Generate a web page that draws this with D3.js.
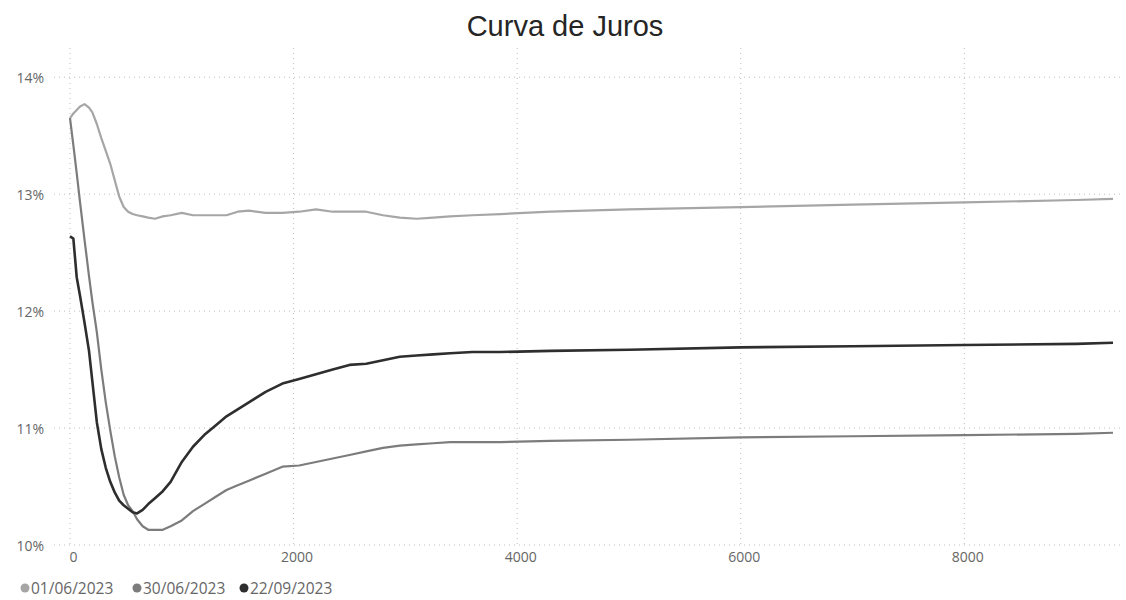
<!DOCTYPE html>
<html>
<head>
<meta charset="utf-8">
<script src="https://cdn.jsdelivr.net/npm/d3@7"></script>
<style>
body { margin: 0; background: #fff; }
</style>
</head>
<body>
<script>
const days = [0, 30, 60, 90, 130, 170, 200, 240, 280, 320, 360, 400, 440, 480, 520, 560, 600, 650, 700, 760,
    830, 900, 1000, 1100, 1200, 1300, 1400, 1500, 1600, 1750, 1900, 2050, 2200, 2350, 2500, 2650, 2800, 2950,
    3100, 3250, 3400, 3600, 3850, 4300, 5000, 6000, 7000, 8000, 9000, 9330];

const juros0106 = [13.65, 13.69, 13.72, 13.75, 13.77, 13.74, 13.70, 13.60, 13.48, 13.37, 13.26, 13.12, 12.98, 12.89,
    12.85, 12.83, 12.82, 12.81, 12.80, 12.79, 12.81, 12.82, 12.84, 12.82, 12.82, 12.82, 12.82, 12.85, 12.86, 12.84,
    12.84, 12.85, 12.87, 12.85, 12.85, 12.85, 12.82, 12.80, 12.79, 12.80, 12.81, 12.82, 12.83, 12.85, 12.87, 12.89,
    12.91, 12.93, 12.95, 12.96];

const juros3006 = [13.65, 13.42, 13.18, 12.93, 12.61, 12.30, 12.08, 11.82, 11.50, 11.22, 10.98, 10.76, 10.58, 10.43,
    10.34, 10.29, 10.22, 10.16, 10.13, 10.13, 10.13, 10.16, 10.21, 10.29, 10.35, 10.41, 10.47, 10.51, 10.55, 10.61,
    10.67, 10.68, 10.71, 10.74, 10.77, 10.80, 10.83, 10.85, 10.86, 10.87, 10.88, 10.88, 10.88, 10.89, 10.90, 10.92,
    10.93, 10.94, 10.95, 10.96];

const juros2209 = [12.64, 12.62, 12.29, 12.13, 11.90, 11.66, 11.40, 11.05, 10.82, 10.66, 10.54, 10.45, 10.38, 10.34,
    10.31, 10.28, 10.27, 10.30, 10.35, 10.40, 10.46, 10.54, 10.71, 10.84, 10.94, 11.02, 11.10, 11.16, 11.22, 11.31,
    11.38, 11.42, 11.46, 11.50, 11.54, 11.55, 11.58, 11.61, 11.62, 11.63, 11.64, 11.65, 11.65, 11.66, 11.67, 11.69,
    11.70, 11.71, 11.72, 11.73];

const seriesNames = ["01/06/2023", "30/06/2023", "22/09/2023"];
const seriesColors = ["#a6a6a6", "#7c7c7c", "#2e2e2e"];
const seriesValues = [juros0106, juros3006, juros2209];

const xTicks = [0, 2000, 4000, 6000, 8000];
const yTicks = [10, 11, 12, 13, 14];

const width = 1126;
const height = 600;

const x = d3.scaleLinear()
.domain([0, 9330])
.range([70, 1113]);

const y = d3.scaleLinear()
.domain([10, 14.25])
.range([545, 48]);

const svg = d3.select("body").append("svg")
.attr("width", width)
.attr("height", height)
.style("font-family", "'Open Sans', 'Noto Sans', sans-serif");

svg.append("text")
.attr("x", 565)
.attr("y", 36)
.attr("text-anchor", "middle")
.text("Curva de Juros")
.style("font-family", "'Liberation Sans', Arial, sans-serif")
.style("font-size", "29px")
.style("fill", "#252525");

// grid
svg.append("g")
.selectAll("line")
.data(yTicks)
.enter()
.append("line")
.attr("x1", 54)
.attr("x2", 1122)
.attr("y1", d => y(d))
.attr("y2", d => y(d))
.attr("stroke", "#bdbdbd")
.attr("stroke-width", 1)
.attr("stroke-dasharray", "1,4");

svg.append("g")
.selectAll("line")
.data(xTicks)
.enter()
.append("line")
.attr("x1", d => x(d))
.attr("x2", d => x(d))
.attr("y1", 48)
.attr("y2", y(10))
.attr("stroke", "#bdbdbd")
.attr("stroke-width", 1)
.attr("stroke-dasharray", "1,4");

// axes (only labels)
const yAxis = d3.axisLeft(y)
.tickValues(yTicks)
.tickFormat(d => d + "%")
.tickSize(0)
.tickPadding(0);

svg.append("g")
.attr("transform", "translate(44,0)")
.call(yAxis)
.call(g => g.select(".domain").remove())
.call(g => g.selectAll("text")
    .attr("dy", "0.4em")
    .style("font-family", "'Open Sans', 'Noto Sans', sans-serif")
    .style("font-size", "14px")
    .style("fill", "#666"));

const xAxis = d3.axisBottom(x)
.tickValues(xTicks)
.tickFormat(d3.format("d"))
.tickSize(0)
.tickPadding(0);

svg.append("g")
.attr("transform", "translate(3,552)")
.call(xAxis)
.call(g => g.select(".domain").remove())
.call(g => g.selectAll("text")
    .style("font-family", "'Open Sans', 'Noto Sans', sans-serif")
    .style("font-size", "14px")
    .style("fill", "#666"));

// lines
const line = d3.line()
.x((d, i) => x(days[i]))
.y(d => y(d));

svg.append("g")
.selectAll("path")
.data(seriesValues)
.enter()
.append("path")
.attr("d", d => line(d))
.attr("fill", "none")
.attr("stroke", (d, i) => seriesColors[i])
.attr("stroke-width", (d, i) => i === 2 ? 2.6 : 2.2)
.attr("stroke-linejoin", "round");

// legend
const legendX = [25, 137, 244];

const legend = svg.append("g")
.selectAll("g")
.data(seriesNames)
.enter()
.append("g")
.attr("transform", (d, i) => "translate(" + legendX[i] + ",588)");

legend.append("circle")
.attr("r", 4.5)
.attr("fill", (d, i) => seriesColors[i]);

legend.append("text")
.attr("x", 6)
.attr("dy", "0.36em")
.text(d => d)
.style("font-size", "15.5px")
.style("fill", "#666");
</script>
</body>
</html>
